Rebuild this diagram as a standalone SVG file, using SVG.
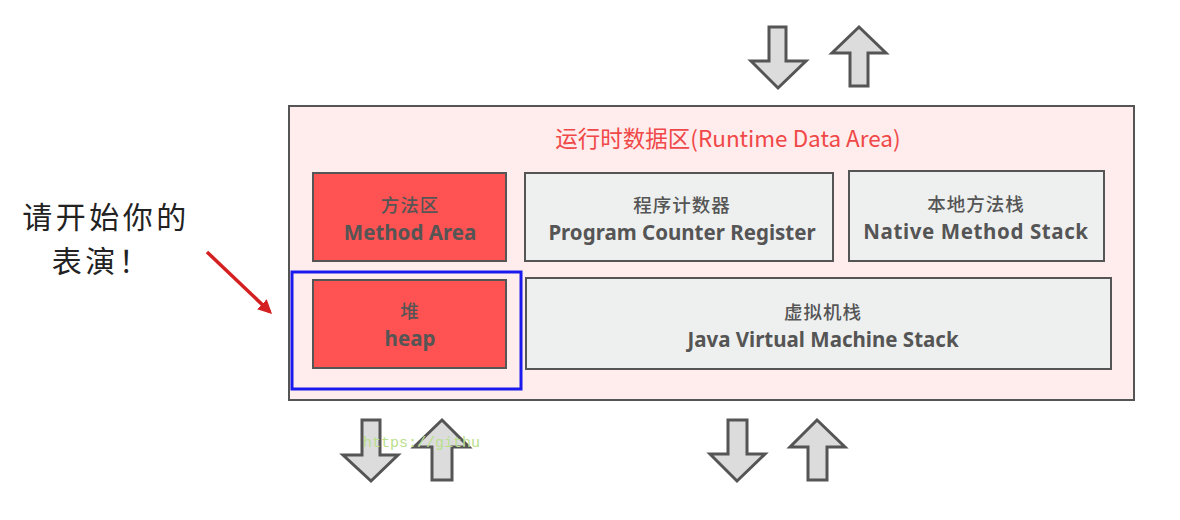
<svg xmlns="http://www.w3.org/2000/svg" width="1180" height="520" viewBox="0 0 1180 520">
<defs>
<style>
.box{stroke:#555;stroke-width:2}
.red{fill:#ff5252}
.gray{fill:#eef0f0}
.lbl{font-family:"Noto Sans","Noto Sans CJK SC",sans-serif;font-weight:bold;fill:#555;font-size:20.5px;text-anchor:middle}
.zh{font-family:"Noto Sans CJK SC",sans-serif;font-weight:500;fill:#555;font-size:18.5px;letter-spacing:1px;text-anchor:middle}
.cap{font-family:"Noto Sans CJK SC",serif;font-size:30px;letter-spacing:3.5px;fill:#222;text-anchor:middle}
.blk{fill:#dcdcdc;stroke:#555;stroke-width:3;stroke-linejoin:miter}
</style>
<marker id="ah" viewBox="0 0 10 10" refX="8" refY="5" markerWidth="4" markerHeight="4" orient="auto">
<path d="M0,0 L10,5 L0,10 z" fill="#d42020"/>
</marker>
</defs>
<rect width="1180" height="520" fill="#ffffff"/>

<g id="runtime-data-area">
<rect x="289" y="106" width="845" height="294" fill="#ffecec" stroke="#555" stroke-width="2"/>
<text x="728" y="147" font-family="'Noto Sans CJK SC',sans-serif" font-size="22.5" fill="#f04848" text-anchor="middle">运行时数据区(Runtime Data Area)</text>
</g>

<g id="method-area">
<rect class="box red" x="313" y="173" width="193" height="88"/>
<text class="zh" x="410" y="212">方法区</text>
<text class="lbl" x="410" y="240">Method Area</text>
</g>

<g id="program-counter">
<rect class="box gray" x="525" y="173" width="308" height="88"/>
<text class="zh" x="682" y="212">程序计数器</text>
<text class="lbl" x="682" y="240">Program Counter Register</text>
</g>

<g id="native-method-stack">
<rect class="box gray" x="849" y="171" width="255" height="90"/>
<text class="zh" x="976" y="211">本地方法栈</text>
<text class="lbl" x="976" y="239" letter-spacing="0.6">Native Method Stack</text>
</g>

<g id="heap">
<rect class="box red" x="313" y="280" width="193" height="88"/>
<text class="zh" x="410" y="318">堆</text>
<text class="lbl" x="410" y="346">heap</text>
</g>

<g id="jvm-stack">
<rect class="box gray" x="526" y="278" width="585" height="91"/>
<text class="zh" x="823" y="319">虚拟机栈</text>
<text class="lbl" x="823" y="347">Java Virtual Machine Stack</text>
</g>

<g id="highlight">
<rect x="292" y="272" width="229" height="117" fill="none" stroke="#1a1aee" stroke-width="3"/>
</g>

<g id="caption">
<text class="cap" x="106" y="228">请开始你的</text>
<text class="cap" x="102" y="272">表演！</text>
</g>

<g id="connectors">
<line x1="207" y1="252" x2="270" y2="312" stroke="#d42020" stroke-width="3.5" marker-end="url(#ah)"/>
<path class="blk" d="M769,27 L786,27 L786,61 L806,61 L778,88 L751,61 L769,61 Z"/>
<path class="blk" d="M859,27 L886,53 L868,53 L868,86 L850,86 L850,53 L832,53 Z"/>
<path class="blk" d="M362,420 L380,420 L380,455 L398,455 L371,481 L343,455 L362,455 Z"/>
<path class="blk" d="M442,420 L469,447 L452,447 L452,480 L432,480 L432,447 L414,447 Z"/>
<path class="blk" d="M728,420 L747,420 L747,454 L765,454 L737,481 L710,454 L728,454 Z"/>
<path class="blk" d="M817,420 L845,447 L827,447 L827,480 L808,480 L808,447 L790,447 Z"/>
</g>

<g id="watermark">
<text x="363" y="447" font-family="'Liberation Mono',monospace" font-size="15" fill="#b9e08c">https://githu</text>
</g>
</svg>
